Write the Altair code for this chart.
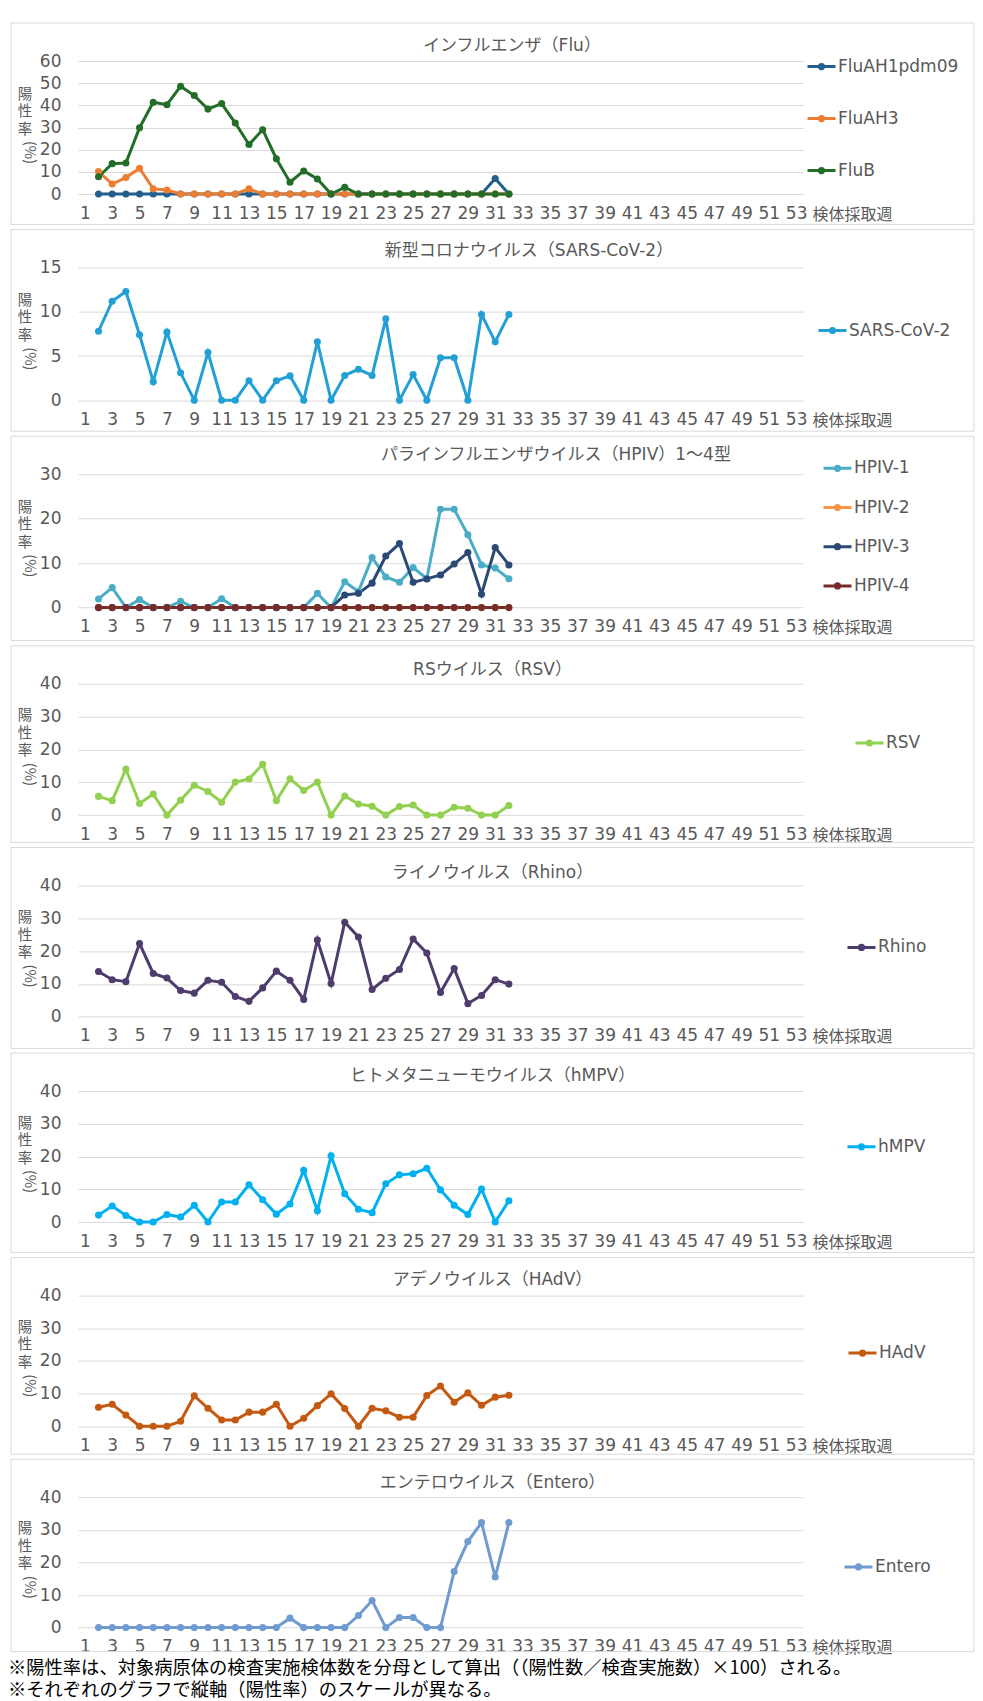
import altair as alt
import pandas as pd

FONT = "DejaVu Sans, Noto Sans CJK JP"
JP_FONT = "Noto Sans CJK JP"
TEXT_GRAY = "#595959"
GRID = "#d9d9d9"

# ---------------- data ----------------
WEEKS = [2, 3, 4, 5, 6, 7, 8, 9, 10, 11, 12, 13, 14, 15, 16, 17, 18, 19, 20,
         21, 22, 23, 24, 25, 26, 27, 28, 29, 30, 31, 32]
X_TICK_LABELS = [1, 3, 5, 7, 9, 11, 13, 15, 17, 19, 21, 23, 25, 27, 29, 31,
                 33, 35, 37, 39, 41, 43, 45, 47, 49, 51, 53]

FLU_AH1 = [0, 0, 0, 0, 0, 0, 0, 0, 0, 0, 0, 0, 0, 0, 0, 0, 0, 0, 0, 0, 0, 0,
           0, 0, 0, 0, 0, 0, 0, 7.0, 0]
FLU_AH3 = [10.1, 4.5, 7.4, 11.6, 2.3, 1.8, 0, 0, 0, 0, 0, 2.3, 0, 0, 0, 0, 0,
           0, 0, 0, 0, 0, 0, 0, 0, 0, 0, 0, 0, 0, 0]
FLU_B = [7.8, 13.7, 14.0, 29.9, 41.4, 40.3, 48.6, 44.4, 38.3, 40.8, 32.0, 22.3,
         29.0, 15.9, 5.3, 10.4, 6.8, 0, 3.0, 0, 0, 0, 0, 0, 0, 0, 0, 0, 0, 0, 0]
SARS = [7.8, 11.2, 12.3, 7.4, 2.1, 7.7, 3.1, 0, 5.4, 0, 0, 2.2, 0, 2.2, 2.75,
        0, 6.6, 0, 2.8, 3.5, 2.8, 9.2, 0, 2.9, 0, 4.8, 4.8, 0, 9.7, 6.6, 9.7]
HPIV1 = [1.95, 4.5, 0, 1.8, 0, 0, 1.4, 0, 0, 2.0, 0, 0, 0, 0, 0, 0, 3.2, 0,
         5.8, 3.6, 11.25, 6.9, 5.7, 9.0, 6.5, 22.1, 22.1, 16.4, 9.6, 8.9, 6.5]
HPIV2 = [0, 0, 0, 0, 0, 0, 0, 0, 0, 0, 0, 0, 0, 0, 0, 0, 0, 0, 0, 0, 0, 0, 0,
         0, 0, 0, 0, 0, 0, 0, 0]
HPIV3 = [0, 0, 0, 0, 0, 0, 0, 0, 0, 0, 0, 0, 0, 0, 0, 0, 0, 0, 2.85, 3.2, 5.5,
         11.6, 14.4, 5.7, 6.45, 7.35, 9.8, 12.4, 3.0, 13.5, 9.6]
HPIV4 = [0, 0, 0, 0, 0, 0, 0, 0, 0, 0, 0, 0, 0, 0, 0, 0, 0, 0, 0, 0, 0, 0, 0,
         0, 0, 0, 0, 0, 0, 0, 0]
RSV = [5.7, 4.4, 14.0, 3.55, 6.4, 0, 4.5, 9.1, 7.2, 3.9, 10.05, 11.0, 15.5,
       4.4, 11.1, 7.5, 10.05, 0, 5.8, 3.35, 2.7, 0, 2.6, 3.05, 0, 0, 2.4, 2.1,
       0, 0, 2.9]
RHINO = [13.8, 11.3, 10.7, 22.3, 13.2, 11.8, 8.0, 7.2, 11.1, 10.5, 6.2, 4.7,
         8.8, 13.9, 11.1, 5.3, 23.4, 10.15, 28.8, 24.3, 8.3, 11.7, 14.4, 23.7,
         19.4, 7.4, 14.7, 4.0, 6.5, 11.3, 9.95]
HMPV = [2.1, 4.9, 2.0, 0, 0, 2.3, 1.5, 5.1, 0, 6.1, 6.1, 11.4, 6.8, 2.4, 5.5,
        15.8, 3.4, 20.2, 8.6, 3.9, 2.85, 11.7, 14.4, 14.75, 16.4, 9.8, 5.1,
        2.3, 10.1, 0, 6.5]
HADV = [5.8, 6.7, 3.4, 0, 0, 0, 1.5, 9.3, 5.5, 1.9, 1.9, 4.3, 4.3, 6.7, 0,
        2.45, 6.3, 9.9, 5.4, 0, 5.5, 4.7, 2.75, 2.75, 9.4, 12.3, 7.35, 10.2,
        6.4, 8.9, 9.5]
ENTERO = [0, 0, 0, 0, 0, 0, 0, 0, 0, 0, 0, 0, 0, 0, 2.9, 0, 0, 0, 0, 3.7, 8.3,
          0, 3.1, 3.1, 0, 0, 17.2, 26.4, 32.2, 15.5, 32.2]

Y_TICKS_60 = [0, 10, 20, 30, 40, 50, 60]
Y_TICKS_15 = [0, 5, 10, 15]
Y_TICKS_30 = [0, 10, 20, 30]
Y_TICKS_40 = [0, 10, 20, 30, 40]

X_TITLE = "検体採取週"
Y_TITLE_CHARS = ["陽", "性", "率"]
Y_TITLE_UNIT = "(%)"
FOOTNOTES = [
    "※陽性率は、対象病原体の検査実施検体数を分母として算出（（陽性数／検査実施数）×100）される。",
    "※それぞれのグラフで縦軸（陽性率）のスケールが異なる。",
]

PANELS = [
    dict(title="インフルエンザ（Flu）", names=["FluAH1pdm09", "FluAH3", "FluB"],
         values=[FLU_AH1, FLU_AH3, FLU_B], colors=["#235f8c", "#ed7d31", "#226e28"],
         ymax=60, yticks=Y_TICKS_60),
    dict(title="新型コロナウイルス（SARS-CoV-2）", names=["SARS-CoV-2"],
         values=[SARS], colors=["#22a0d6"], ymax=15, yticks=Y_TICKS_15),
    dict(title="パラインフルエンザウイルス（HPIV）1～4型",
         names=["HPIV-1", "HPIV-2", "HPIV-3", "HPIV-4"],
         values=[HPIV1, HPIV2, HPIV3, HPIV4],
         colors=["#4bacc6", "#f79646", "#2a4a75", "#772c2a"], ymax=30, yticks=Y_TICKS_30),
    dict(title="RSウイルス（RSV）", names=["RSV"], values=[RSV], colors=["#92d050"],
         ymax=40, yticks=Y_TICKS_40),
    dict(title="ライノウイルス（Rhino）", names=["Rhino"], values=[RHINO],
         colors=["#4e3c6c"], ymax=40, yticks=Y_TICKS_40),
    dict(title="ヒトメタニューモウイルス（hMPV）", names=["hMPV"], values=[HMPV],
         colors=["#00b0f0"], ymax=40, yticks=Y_TICKS_40),
    dict(title="アデノウイルス（HAdV）", names=["HAdV"], values=[HADV],
         colors=["#c45a11"], ymax=40, yticks=Y_TICKS_40),
    dict(title="エンテロウイルス（Entero）", names=["Entero"], values=[ENTERO],
         colors=["#6f9bd0"], ymax=40, yticks=Y_TICKS_40),
]

# ---------------- layout (pixels, relative to each plot area) ----------------
W = 725
TOP_EXT = 38
LAYOUT = [
    dict(h=133.0, bot=30.4, title_x=434, title_y=-15, legend_x=728, legend_y=-9.9, row_pad=28),
    dict(h=132.6, bot=31.0, title_x=451, title_y=-16.5, legend_x=739, legend_y=47.4, row_pad=10),
    dict(h=133.4, bot=33.0, title_x=478, title_y=-19.5, legend_x=744, legend_y=-21.4, row_pad=15.2),
    dict(h=131.3, bot=27.3, title_x=414.5, title_y=-14.2, legend_x=776, legend_y=43.7, row_pad=10),
    dict(h=131.4, bot=31.6, title_x=414.5, title_y=-12.8, legend_x=768, legend_y=46.5, row_pad=10),
    dict(h=131.0, bot=30.4, title_x=414.5, title_y=-15.5, legend_x=768, legend_y=40.3, row_pad=10),
    dict(h=130.6, bot=28.0, title_x=414.5, title_y=-15.9, legend_x=769, legend_y=42.0, row_pad=10),
    dict(h=130.4, bot=24.0, title_x=414.5, title_y=-14.1, legend_x=765, legend_y=54.2, row_pad=10),
]
SYMBOL_PATH = ("M-1,0L1,0M-0.15,0A0.15,0.15,0,1,0,0.15,0"
               "A0.15,0.15,0,1,0,-0.15,0")

ONE = pd.DataFrame({"k": [0]})


def deco_text(text, x, y, size, font=FONT, angle=0, color=TEXT_GRAY):
    kw = dict(text=text, font=font, fontSize=size, color=color,
              align="center", baseline="middle")
    if angle:
        kw["angle"] = angle
    return alt.Chart(ONE).mark_text(**kw).encode(x=alt.value(x), y=alt.value(y))


def make_panel(p, lay):
    H = lay["h"]
    rows = []
    for name, vals in zip(p["names"], p["values"]):
        for w, v in zip(WEEKS, vals):
            rows.append({"week": w, "rate": v, "series": name})
    df = pd.DataFrame(rows)

    x = alt.X("week:Q",
              scale=alt.Scale(domain=[0.5, 53.5], nice=False, zero=False),
              axis=alt.Axis(values=X_TICK_LABELS, grid=False, domain=False,
                            ticks=False, tickSize=0, labelPadding=11,
                            labelFontSize=17, labelFlush=False,
                            labelOverlap=False, labelBound=False,
                            title=X_TITLE, titleX=734, titleY=20,
                            titleAlign="left", titleBaseline="middle",
                            titleFontSize=16, titleFontWeight="normal",
                            titleFont=JP_FONT, titleAngle=0))
    y = alt.Y("rate:Q",
              scale=alt.Scale(domain=[0, p["ymax"]], nice=False),
              axis=alt.Axis(values=p["yticks"], grid=True, gridColor=GRID,
                            gridWidth=1, domain=False, ticks=False,
                            tickSize=0, labelPadding=17, labelFontSize=17,
                            title=None))
    color = alt.Color("series:N",
                      scale=alt.Scale(domain=p["names"], range=p["colors"]),
                      legend=alt.Legend(orient="none",
                                        legendX=lay["legend_x"],
                                        legendY=lay["legend_y"], title=None,
                                        direction="vertical", padding=0,
                                        symbolType=SYMBOL_PATH, symbolSize=784,
                                        symbolStrokeWidth=3,
                                        rowPadding=lay["row_pad"],
                                        labelFontSize=17, labelOffset=1,
                                        labelFont=FONT, labelColor=TEXT_GRAY))
    lines = alt.Chart(df).mark_line(
        strokeWidth=3,
        point=alt.OverlayMarkDef(filled=True, size=50, opacity=1),
    ).encode(x=x, y=y, color=color, order=alt.Order("week:Q"))

    border = alt.Chart(ONE).mark_rect(
        fill="transparent", stroke=GRID, strokeWidth=1
    ).encode(x=alt.value(-67), x2=alt.value(896), y=alt.value(-TOP_EXT),
             y2=alt.value(H + lay["bot"]))

    c = H / 2
    yx = -53
    layers = [
        border,
        deco_text(p["title"], lay["title_x"], lay["title_y"], 17),
        deco_text(Y_TITLE_CHARS[0], yx, c - 33, 14.5, font=JP_FONT),
        deco_text(Y_TITLE_CHARS[1], yx, c - 15.5, 14.5, font=JP_FONT),
        deco_text(Y_TITLE_CHARS[2], yx, c + 2, 14.5, font=JP_FONT),
        deco_text(Y_TITLE_UNIT, yx + 3.5, c + 25, 14.5, font=JP_FONT, angle=90),
        lines,
    ]
    return alt.layer(*layers).properties(width=W, height=H)


panels = [make_panel(p, l) for p, l in zip(PANELS, LAYOUT)]

chart = alt.vconcat(*panels, spacing=2.6).resolve_scale(
    color="independent"
).resolve_legend(color="independent").properties(
    padding={"left": 0, "top": 14, "right": 0, "bottom": 0},
    background="white",
    title=alt.TitleParams(text=FOOTNOTES, orient="bottom", anchor="start",
                          fontSize=18.3, font=JP_FONT, color="#000000",
                          fontWeight="normal", lineHeight=22, offset=4,
                          dx=-2, baseline="top"),
).configure_view(stroke="transparent").configure_axis(
    labelFont=FONT, titleFont=FONT, labelColor=TEXT_GRAY, titleColor=TEXT_GRAY
).configure_legend(labelFont=FONT, labelColor=TEXT_GRAY)

chart.save("out.html", embed_options={"renderer": "svg", "actions": False})
